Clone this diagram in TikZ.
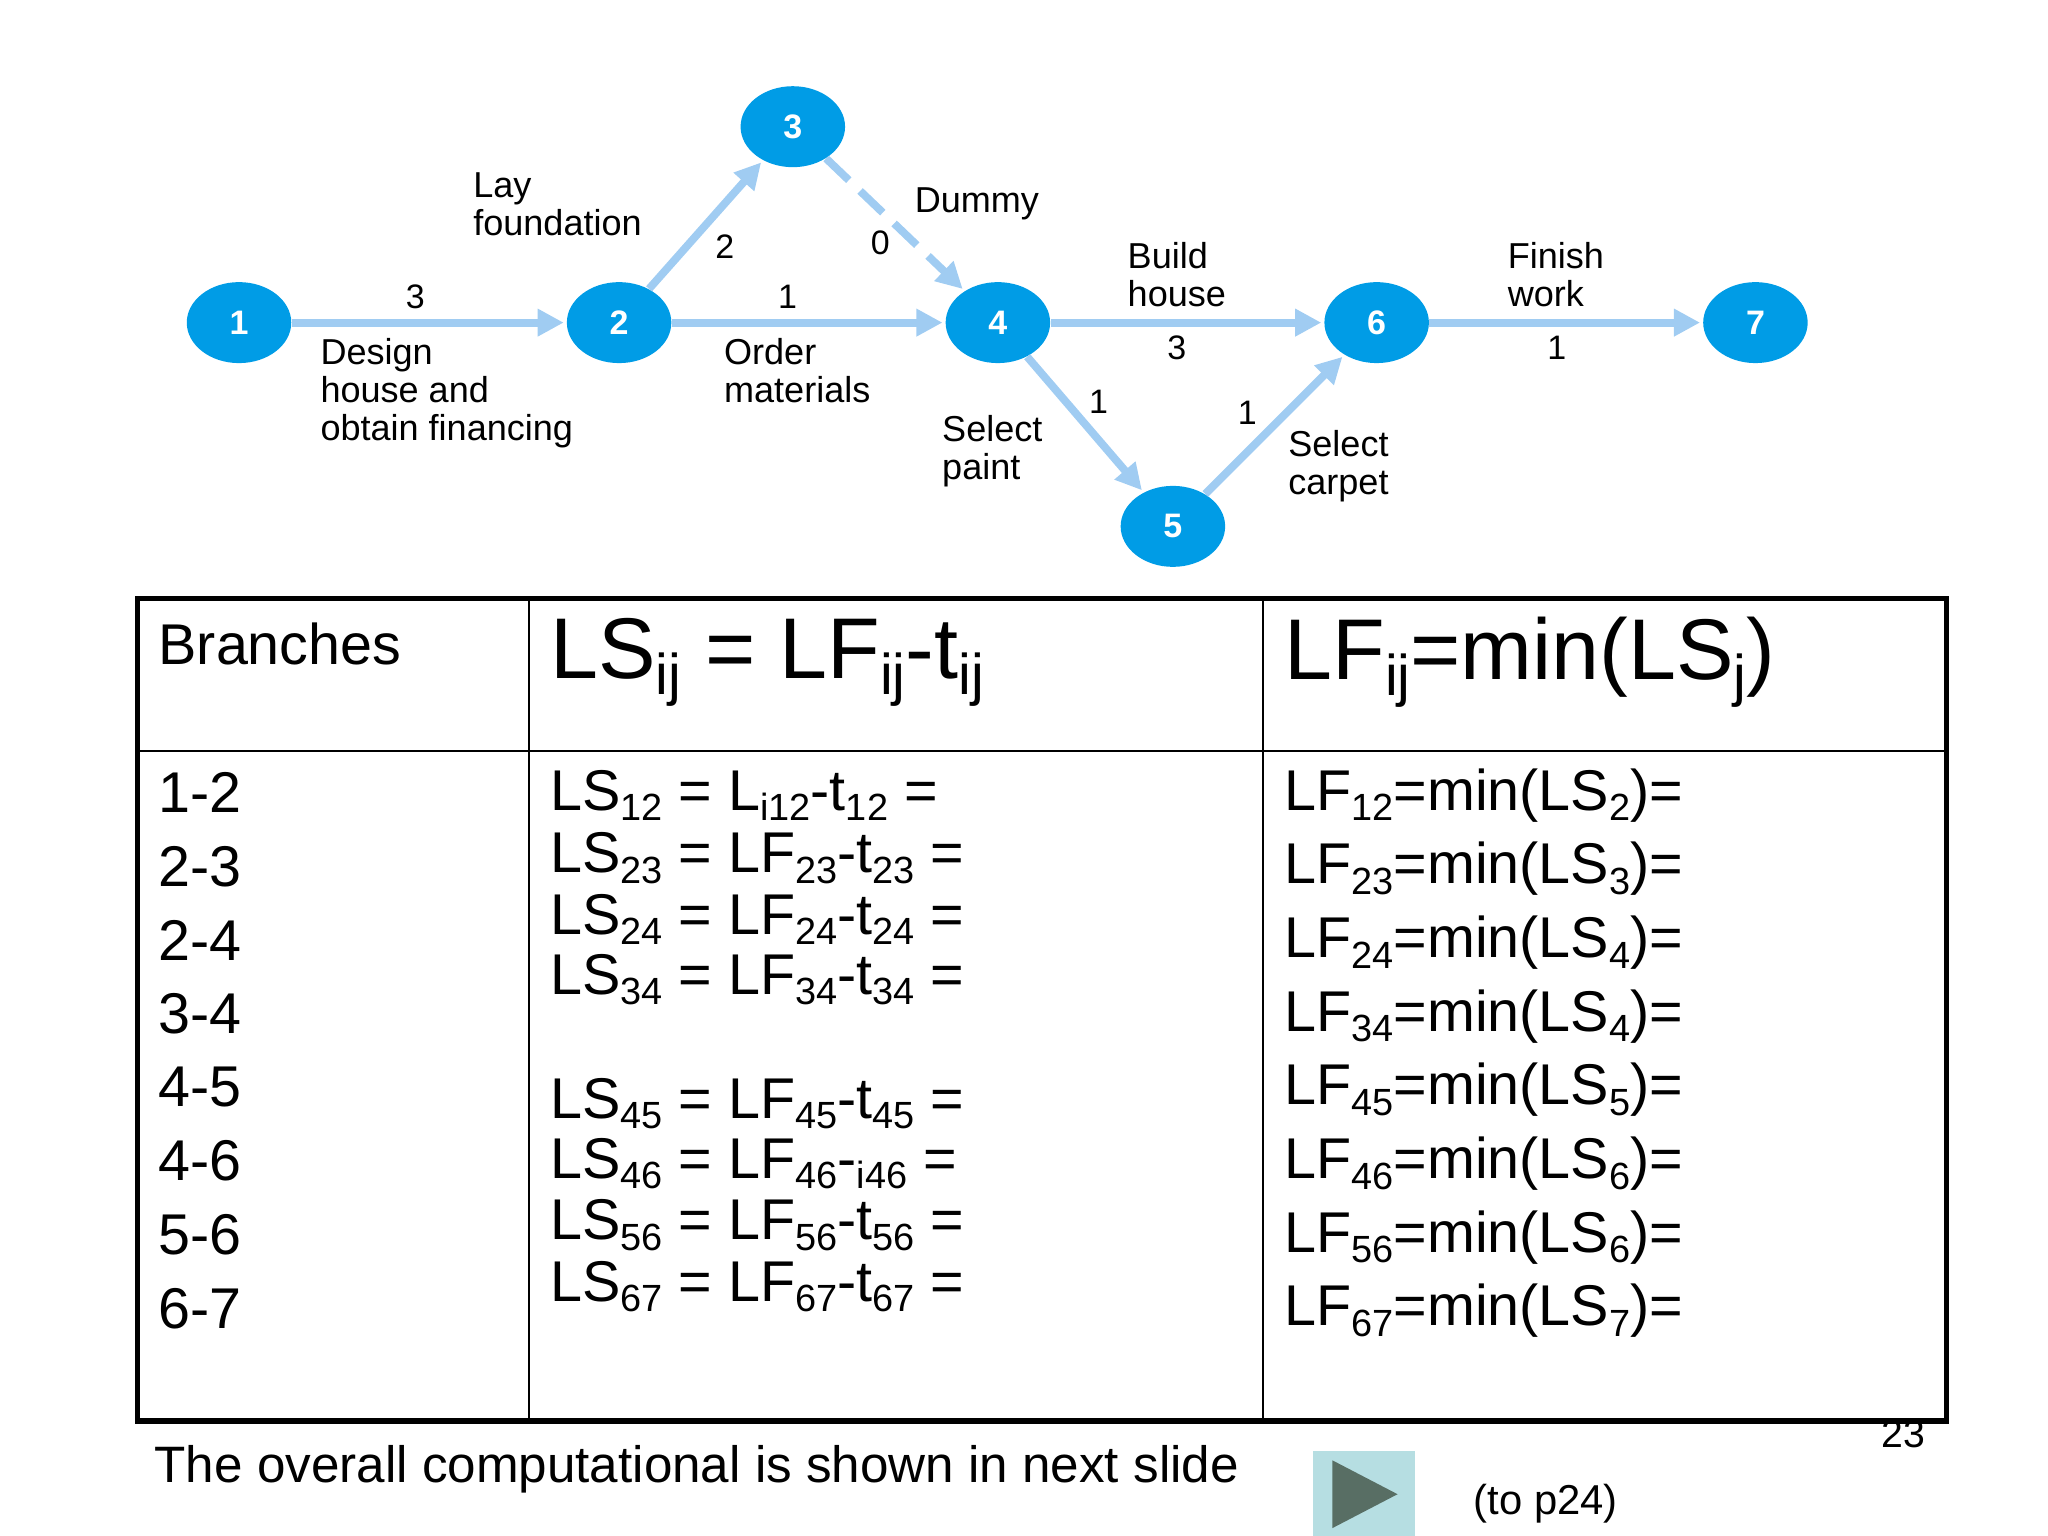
\documentclass[tikz,border=0pt]{standalone}
\usepackage{fontspec}
\setmainfont{Liberation Sans}
\usetikzlibrary{shapes.geometric, arrows.meta, positioning}
\definecolor{eventblue}{RGB}{0,156,230}
\definecolor{arcblue}{RGB}{160,204,242}
\definecolor{btnfill}{RGB}{182,222,226}
\definecolor{btntri}{RGB}{88,110,100}
\tikzstyle{event} = [ellipse, minimum width=40pt, minimum height=31pt, inner sep=0pt, fill=eventblue, text=white, font=\fontsize{13}{13}\selectfont\bfseries]
\tikzstyle{arc} = [draw=arcblue, line width=3pt, -{Triangle[length=10pt,width=10pt]}, shorten >=1pt]
\tikzstyle{dummy} = [arc, dash pattern=on 12pt off 6pt]
\tikzstyle{lbl} = [anchor=north west, align=left, inner sep=0pt, font=\fontsize{13.8}{14.5}\selectfont]
\tikzstyle{num} = [inner sep=0pt, font=\fontsize{13}{14.5}\selectfont]
\tikzstyle{cell} = [anchor=west, inner sep=0pt, font=\fontsize{22}{22}\selectfont]
\tikzstyle{head} = [anchor=west, inner sep=0pt, font=\fontsize{33}{33}\selectfont]
\newcommand{\lsub}[1]{\raisebox{-0.35ex}{\fontsize{14.5}{14.5}\selectfont #1}}
\newcommand{\hsub}[1]{\raisebox{-0.35ex}{\fontsize{22}{22}\selectfont #1}}
\begin{document}
\begin{tikzpicture}[x=0.5pt, y=-0.5pt]
\useasboundingbox (0,0) rectangle (1568,1176);

% events
\node (e1) [event] at (183,247) {1};
\node (e2) [event] at (474,247) {2};
\node (e3) [event] at (607,97) {3};
\node (e4) [event] at (764,247) {4};
\node (e5) [event] at (898,403) {5};
\node (e6) [event] at (1054,247) {6};
\node (e7) [event] at (1344,247) {7};

% activities
\draw [arc] (e1) -- (e2);
\draw [arc] (e2) -- (e3);
\draw [arc] (e2) -- (e4);
\draw [dummy] (e3) -- (e4);
\draw [arc] (e4) -- (e6);
\draw [arc] (e4) -- (e5);
\draw [arc] (e5) -- (e6);
\draw [arc] (e6) -- (e7);

% labels
\node (t12) [num] at (318,227) {3};
\node (d12) [lbl] at (245,259) {Design\\house and\\obtain financing};
\node (d23) [lbl] at (362,132) {Lay\\foundation};
\node (t23) [num] at (555,189) {2};
\node (t34) [num] at (674,186) {0};
\node (d34) [lbl] at (700,143) {Dummy};
\node (t24) [num] at (603,227) {1};
\node (d24) [lbl] at (554,259) {Order\\materials};
\node (d46) [lbl] at (863,185) {Build\\house};
\node (t46) [num] at (901,266) {3};
\node (d67) [lbl] at (1154,185) {Finish\\work};
\node (t67) [num] at (1192,266) {1};
\node (t45) [num] at (841,308) {1};
\node (d45) [lbl] at (721,318) {Select\\paint};
\node (t56) [num] at (955,316) {1};
\node (d56) [lbl] at (986,329) {Select\\carpet};

% table
\draw [line width=2pt] (105,458) rectangle (1490,1088);
\draw [line width=1pt] (105,575) -- (1490,575);
\draw [line width=1pt] (405,458) -- (405,1088);
\draw [line width=1pt] (967,458) -- (967,1088);

\node (hb) [cell] at (121,493) {Branches};
\node (hls) [head] at (421,507) {LS\hsub{ij} = LF\hsub{ij}-t\hsub{ij}};
\node (hlf) [head] at (983,507) {LF\hsub{ij}=min(LS\hsub{j})};

\foreach \b [count=\i from 0] in {1-2,2-3,2-4,3-4,4-5,4-6,5-6,6-7}
  \node [cell] at (121,607+56.4*\i) {\b};

\node [cell] at (421,609) {LS\lsub{12} = L\lsub{i12}-t\lsub{12} =};
\node [cell] at (421,657) {LS\lsub{23} = LF\lsub{23}-t\lsub{23} =};
\node [cell] at (421,704) {LS\lsub{24} = LF\lsub{24}-t\lsub{24} =};
\node [cell] at (421,750) {LS\lsub{34} = LF\lsub{34}-t\lsub{34} =};
\node [cell] at (421,845) {LS\lsub{45} = LF\lsub{45}-t\lsub{45} =};
\node [cell] at (421,891) {LS\lsub{46} = LF\lsub{46}-\lsub{i46} =};
\node [cell] at (421,938) {LS\lsub{56} = LF\lsub{56}-t\lsub{56} =};
\node [cell] at (421,985) {LS\lsub{67} = LF\lsub{67}-t\lsub{67} =};

\foreach \ij/\j [count=\i from 0] in {12/2,23/3,24/4,34/4,45/5,46/6,56/6,67/7}
  \node [cell] at (983,609+56.4*\i) {LF\lsub{\ij}=min(LS\lsub{\j})=};

% footer
\node (foot) [cell, font=\fontsize{19.6}{19.6}\selectfont] at (118,1125) {The overall computational is shown in next slide};
\node (pg) [inner sep=0pt, font=\fontsize{15}{15}\selectfont] at (1457,1098) {23};
\node (btn) [rectangle, fill=btnfill, minimum width=39pt, minimum height=33pt, inner sep=0pt] at (1044.5,1144) {};
\fill [btntri] (1020,1118) -- (1070,1144) -- (1020,1170) -- cycle;
\node (top24) [cell, font=\fontsize{16}{16}\selectfont] at (1128,1151) {(to p24)};
\end{tikzpicture}
\end{document}
